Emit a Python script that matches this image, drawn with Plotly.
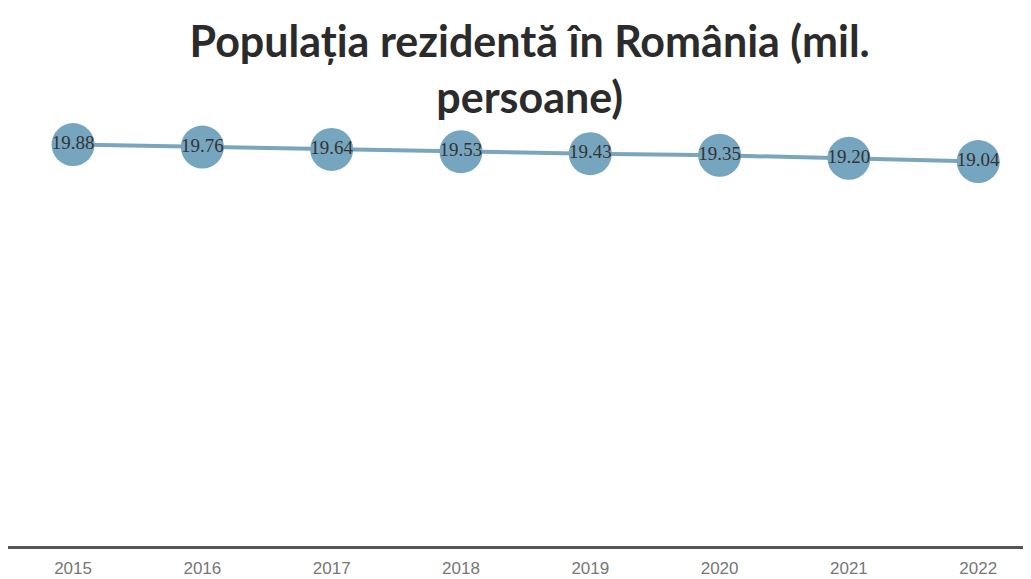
import plotly.graph_objects as go

# data
years = ["2015", "2016", "2017", "2018", "2019", "2020", "2021", "2022"]
population = [19.88, 19.76, 19.64, 19.53, 19.43, 19.35, 19.20, 19.04]
labels = ["19.88", "19.76", "19.64", "19.53", "19.43", "19.35", "19.20", "19.04"]

title_text = "Populația rezidentă în România (mil.<br>persoane)"

fig = go.Figure()
fig.add_trace(go.Scatter(
    x=years,
    y=population,
    mode="lines+markers+text",
    text=labels,
    textposition="middle center",
    textfont=dict(family="Liberation Serif", size=19, color="#333333"),
    line=dict(color="#7aa6bd", width=4),
    marker=dict(size=43, color="#76a5bf", line=dict(width=0)),
    hoverinfo="x+y",
))

# the page body adds an 8px offset, margins below account for it
fig.update_layout(
    title=dict(
        text=title_text,
        x=0.506, xanchor="center",
        y=0.915, yref="container", yanchor="top",
        font=dict(family="Lato", size=43, color="#2b2b2b", weight="bold"),
    ),
    xaxis=dict(
        type="category",
        range=[-0.503, 7.47],
        showgrid=False,
        zeroline=False,
        showline=True,
        linecolor="#555555",
        linewidth=3,
        ticks="",
        ticklabelstandoff=5,
        tickfont=dict(family="Liberation Sans", size=17, color="#777777"),
    ),
    yaxis=dict(
        range=[0, 21],
        visible=False,
        showgrid=False,
        zeroline=False,
    ),
    showlegend=False,
    plot_bgcolor="white",
    paper_bgcolor="white",
    width=1031,
    height=579,
    margin=dict(l=0, r=0, t=114, b=41),
)

fig.write_html("out.html")
